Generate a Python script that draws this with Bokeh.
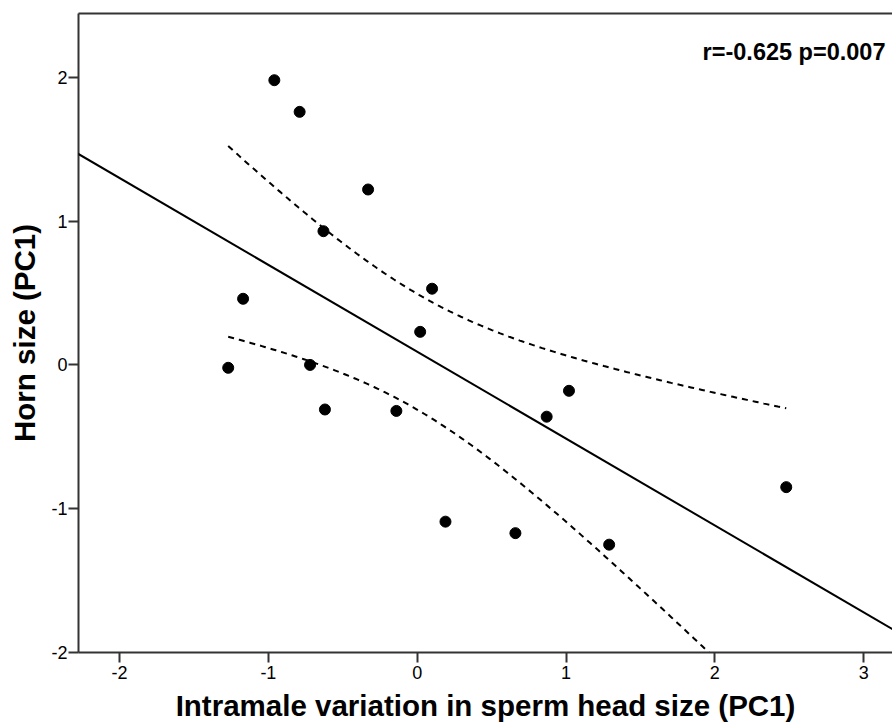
import numpy as np
from bokeh.plotting import figure
from bokeh.models import FixedTicker, LinearAxis, Slope, Label, Range1d
from bokeh.embed import file_html
from bokeh.resources import INLINE

# ---- data ----
x_vals = [-0.96, -0.79, -0.33, -0.63, 0.10, 0.02, -1.17, -1.27, -0.72,
          -0.62, -0.14, 1.02, 0.87, 0.19, 0.66, 1.29, 2.48]
y_vals = [1.98, 1.76, 1.22, 0.93, 0.53, 0.23, 0.46, -0.02, 0.00,
          -0.31, -0.32, -0.18, -0.36, -1.09, -1.17, -1.25, -0.85]

x_ticks = [-2, -1, 0, 1, 2, 3]
x_tick_labels = ["-2", "-1", "0", "1", "2", "3"]
y_ticks = [-2, -1, 0, 1, 2]
y_tick_labels = ["-2", "-1", "0", "1", "2"]

x_title = "Intramale variation in sperm head size (PC1)"
y_title = "Horn size (PC1)"
stat_text = "r=-0.625 p=0.007"
stat_pos = (3.147, 2.174)
t_crit = 2.131  # t(0.975, df=15)

FONT = "Liberation Sans"
LINE = "#333333"

# ---- regression and 95% CI of the mean ----
x = np.array(x_vals)
y = np.array(y_vals)
n = len(x)
b, a = np.polyfit(x, y, 1)
resid = y - (a + b * x)
s = np.sqrt(np.sum(resid ** 2) / (n - 2))
sxx = np.sum((x - x.mean()) ** 2)
xs = np.linspace(x.min(), x.max(), 200)
yhat = a + b * xs
half = t_crit * s * np.sqrt(1.0 / n + (xs - x.mean()) ** 2 / sxx)
upper = yhat + half
lower = yhat - half

p = figure(width=892, height=727, output_backend="svg", toolbar_location=None,
           x_range=Range1d(-2.276, 3.194), y_range=Range1d(-2.0, 2.444),
           min_border_left=78, min_border_right=0, min_border_top=13,
           min_border_bottom=75,
           x_axis_label=x_title, y_axis_label=y_title)
p.grid.visible = False
p.outline_line_color = None
p.background_fill_color = "white"
p.border_fill_color = "white"

for ax, ticks, labels in ((p.xaxis[0], x_ticks, x_tick_labels),
                          (p.yaxis[0], y_ticks, y_tick_labels)):
    ax.ticker = FixedTicker(ticks=ticks)
    ax.major_label_overrides = {t: l for t, l in zip(ticks, labels)}
    ax.minor_tick_line_color = None
    ax.major_tick_in = 0
    ax.major_tick_out = 10
    ax.axis_line_color = LINE
    ax.axis_line_width = 2
    ax.major_tick_line_color = LINE
    ax.major_tick_line_width = 2
    ax.major_label_text_font = FONT
    ax.major_label_text_font_size = "18px"
    ax.major_label_text_color = "black"
    ax.axis_label_text_font = FONT
    ax.axis_label_text_font_size = "29.5px"
    ax.axis_label_text_font_style = "bold"
    ax.axis_label_text_color = "black"

p.xaxis[0].major_label_standoff = 3
p.xaxis[0].axis_label_standoff = 7
p.yaxis[0].major_label_standoff = 1
p.yaxis[0].axis_label_standoff = 7

top = LinearAxis(ticker=FixedTicker(ticks=[]), major_tick_out=0, major_tick_in=0,
                 minor_tick_out=0, minor_tick_in=0, major_label_standoff=0,
                 axis_line_color=LINE, axis_line_width=2,
                 major_label_text_font_size="0px")
p.add_layout(top, "above")

p.line(xs, upper, line_color="black", line_width=2, line_dash="6 5")
p.line(xs, lower, line_color="black", line_width=2, line_dash="6 5")
p.add_layout(Slope(gradient=b, y_intercept=a, line_color="black", line_width=2))
p.scatter(x_vals, y_vals, size=11, fill_color="black", line_color="black")

p.add_layout(Label(x=stat_pos[0], y=stat_pos[1], text=stat_text,
                   text_align="right", text_baseline="alphabetic",
                   text_font=FONT, text_font_size="23.5px",
                   text_font_style="bold", text_color="black"))

open("out.html", "w").write(file_html(p, INLINE))
